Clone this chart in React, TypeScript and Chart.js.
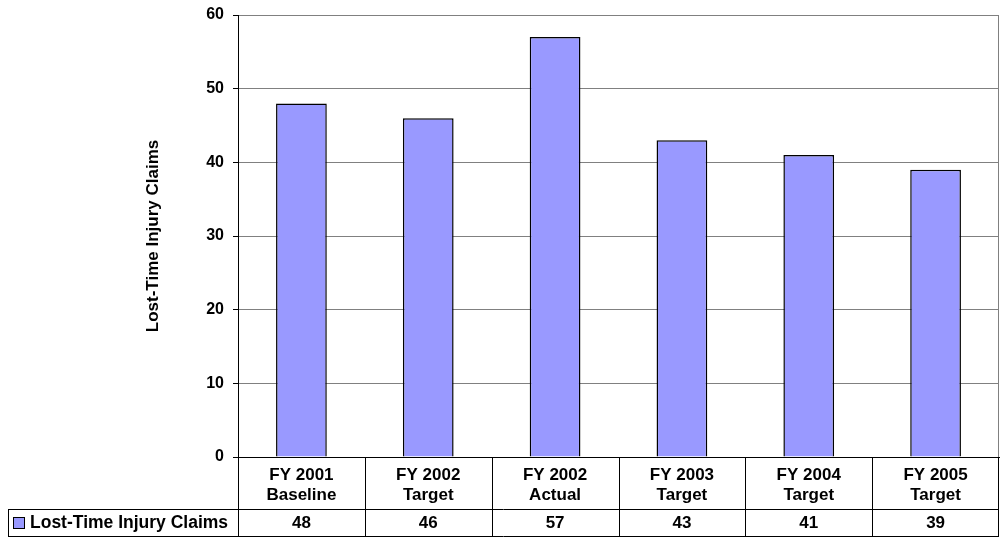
import React, { useEffect, useRef } from "react";
import { Chart, registerables } from "chart.js";

Chart.register(...registerables);

const categories: string[][] = [
  ["FY 2001", "Baseline"],
  ["FY 2002", "Target"],
  ["FY 2002", "Actual"],
  ["FY 2003", "Target"],
  ["FY 2004", "Target"],
  ["FY 2005", "Target"],
];
const seriesName = "Lost-Time Injury Claims";
const values: number[] = [48, 46, 57, 43, 41, 39];
const yMin = 0;
const yMax = 60;
const yStep = 10;

const FONT = "Arial, 'Liberation Sans', sans-serif";
const BAR_COLOR = "#9999FF";

const tablePlugin = {
  id: "dataTable",
  afterDraw(chart: any) {
    const ctx = chart.ctx;
    const x = chart.scales.x;
    const area = chart.chartArea;
    const n = categories.length;
    const top = area.bottom;
    const rowLine = top + 52;
    const bottom = chart.height - 1;
    const legendLeft = 8;
    ctx.save();
    ctx.strokeStyle = "#000";
    ctx.lineWidth = 1;
    const half = (v: number) => Math.round(v) + 0.5;
    ctx.beginPath();
    ctx.moveTo(legendLeft, half(rowLine));
    ctx.lineTo(area.right, half(rowLine));
    ctx.moveTo(legendLeft, half(bottom));
    ctx.lineTo(area.right, half(bottom));
    ctx.moveTo(half(legendLeft), half(rowLine));
    ctx.lineTo(half(legendLeft), half(bottom));
    const catW = (area.right - area.left) / n;
    for (let i = 0; i <= n; i++) {
      const bx = i === n ? area.right - 0.5 : half(x.getPixelForValue(i) - catW / 2);
      ctx.moveTo(bx, top);
      ctx.lineTo(bx, half(bottom));
    }
    ctx.stroke();

    ctx.strokeStyle = "#808080";
    ctx.beginPath();
    ctx.moveTo(area.right - 0.5, area.top);
    ctx.lineTo(area.right - 0.5, area.bottom);
    ctx.stroke();

    ctx.fillStyle = "#000";
    ctx.font = `bold 17px ${FONT}`;
    ctx.textAlign = "center";
    ctx.textBaseline = "middle";
    for (let i = 0; i < n; i++) {
      const cx = x.getPixelForValue(i);
      ctx.fillText(categories[i][0], cx, top + 18);
      ctx.fillText(categories[i][1], cx, top + 38);
      ctx.fillText(String(values[i]), cx, (rowLine + bottom) / 2 + 1);
    }
    const ly = (rowLine + bottom) / 2;
    ctx.fillStyle = BAR_COLOR;
    ctx.fillRect(13.5, Math.round(ly) - 5.5, 11, 11);
    ctx.strokeStyle = "#000";
    ctx.strokeRect(13.5, Math.round(ly) - 5.5, 11, 11);
    ctx.fillStyle = "#000";
    ctx.textAlign = "left";
    ctx.font = `bold 17.5px ${FONT}`;
    ctx.fillText(seriesName, 30, ly + 1);
    ctx.restore();
  },
};

export default function App() {
  const ref = useRef<HTMLCanvasElement | null>(null);
  useEffect(() => {
    if (!ref.current) return;
    const chart = new Chart(ref.current, {
      type: "bar",
      data: {
        labels: categories.map((c) => c.join(" ")),
        datasets: [
          {
            label: seriesName,
            data: values,
            backgroundColor: BAR_COLOR,
            borderColor: "#000",
            borderWidth: 1.5,
            barPercentage: 0.4,
            categoryPercentage: 1,
          },
        ],
      },
      options: {
        responsive: false,
        animation: false,
        layout: { padding: { left: 138, right: 1, top: 15, bottom: 0 } },
        plugins: { legend: { display: false }, tooltip: { enabled: false } },
        scales: {
          x: {
            grid: { display: false, drawTicks: false },
            ticks: { display: false },
            border: { display: true, color: "#000", width: 1 },
            afterFit: (s: any) => {
              s.height = 80;
            },
          },
          y: {
            min: yMin,
            max: yMax,
            ticks: {
              stepSize: yStep,
              color: "#000",
              font: { family: FONT, size: 16, weight: "bold" },
              padding: 9,
            },
            grid: { color: "#808080", tickColor: "#000", tickLength: 5, lineWidth: 1 },
            border: { display: true, color: "#000", width: 1 },
            title: {
              display: true,
              text: seriesName,
              color: "#000",
              font: { family: FONT, size: 17, weight: "bold" },
              padding: { top: 5, bottom: 0 },
            },
            afterFit: (s: any) => {
              s.width = 238 - 138;
              s.paddingTop = 0;
              s.paddingBottom = 0;
            },
          },
        },
      },
      plugins: [tablePlugin],
    });
    return () => chart.destroy();
  }, []);
  return (
    <div style={{ position: "fixed", left: 0, top: 0, width: 1000, height: 537, background: "#fff" }}>
      <canvas ref={ref} width={1000} height={537} />
    </div>
  );
}
